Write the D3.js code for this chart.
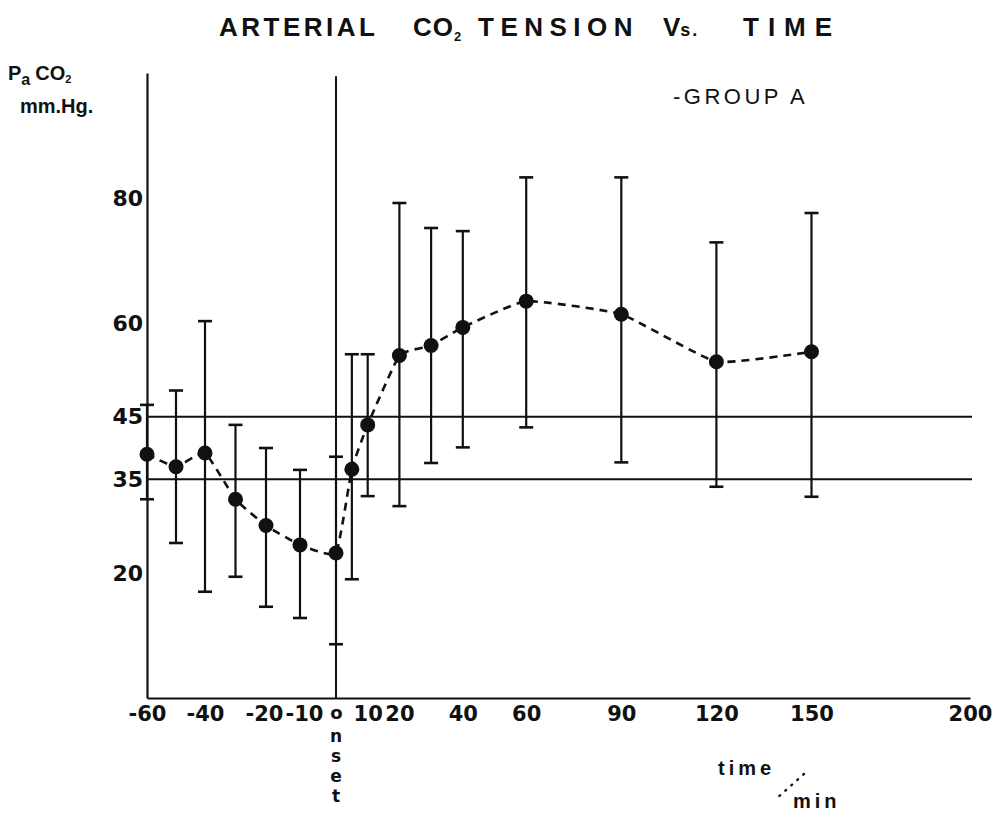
<!DOCTYPE html>
<html>
<head>
<meta charset="utf-8">
<script src="https://cdn.jsdelivr.net/npm/d3@7"></script>
<style>
  html, body { margin: 0; padding: 0; background: #fff; }
  svg { display: block; font-family: "Liberation Sans", Arial, sans-serif; }
</style>
</head>
<body>
<svg id="chart" width="1001" height="813"></svg>
<script>
// values (mm Hg), one entry per sampling time
const times = [-60, -50, -40, -30, -20, -10, 0, 5, 10, 20, 30, 40, 60, 90, 120, 150];
const means = [39.0, 37.0, 39.2, 31.8, 27.6, 24.5, 23.2, 36.6, 43.7, 54.8, 56.4, 59.3, 63.5, 61.4, 53.8, 55.4];
const upper = [46.9, 49.2, 60.3, 43.7, 40.0, 36.5, 38.6, 55.0, 55.0, 79.2, 75.2, 74.7, 83.3, 83.3, 72.9, 77.6];
const lower = [31.8, 24.8, 17.0, 19.4, 14.6, 12.8, 8.6, 19.0, 32.3, 30.7, 37.6, 40.1, 43.3, 37.7, 33.8, 32.2];

// axis ticks
const xTicks = [-60, -40, -20, -10, 0, 10, 20, 40, 60, 90, 120, 150, 200];
const yTicks = [20, 35, 45, 60, 80];
// normal range band
const refLines = [35, 45];

const svg = d3.select("#chart");

// hand drawn time axis: pre-onset part is a bit squeezed, onset gets a wider gap
const x = d3.scaleLinear().domain([-60, -40, -20, -10, 0, 200]).range([147, 205, 266, 300, 336, 970]);
const y = d3.scaleLinear().domain([0, 100]).range([698, 73]);

const ink = "#111";
const tickFont = "DejaVu Sans, Liberation Sans, sans-serif";

// title, lettered word by word like the original
const title = svg.append("text")
  .attr("y", 36)
  .attr("font-size", 26)
  .attr("font-weight", "bold")
  .attr("fill", ink);
title.append("tspan").attr("x", 219).attr("letter-spacing", 3.5).text("ARTERIAL");
title.append("tspan").attr("x", 413).attr("letter-spacing", 1).text("CO");
title.append("tspan").attr("dy", 5).attr("font-size", 13).text("2");
title.append("tspan").attr("x", 478).attr("dy", -5).attr("letter-spacing", 6.5).text("TENSION");
title.append("tspan").attr("x", 663).text("V");
title.append("tspan").attr("font-size", 18).attr("letter-spacing", 2).text("s.");
title.append("tspan").attr("x", 743).attr("letter-spacing", 9).text("TIME");

// y label
const yl = svg.append("text")
  .attr("x", 8).attr("y", 80)
  .attr("font-size", 20).attr("font-weight", "bold").attr("fill", ink);
yl.append("tspan").text("P");
yl.append("tspan").attr("dy", 5).attr("font-size", 16).text("a");
yl.append("tspan").attr("dx", 5).attr("dy", -5).text("CO");
yl.append("tspan").attr("dy", 3).attr("font-size", 11).text("2");
svg.append("text")
  .attr("x", 20).attr("y", 113)
  .attr("font-size", 20).attr("font-weight", "bold").attr("fill", ink)
  .text("mm.Hg.");

// group label
svg.append("text")
  .attr("x", 673).attr("y", 104)
  .attr("font-size", 22).attr("fill", ink)
  .attr("letter-spacing", 3.5)
  .text("-GROUP A");

// axes
const gx = svg.append("g")
  .attr("transform", `translate(0,${y(0)})`)
  .call(d3.axisBottom(x).tickValues(xTicks).tickSize(0).tickPadding(8)
    .tickFormat(d => d === 0 ? "o" : d));
gx.select(".domain").attr("stroke", ink).attr("stroke-width", 2.2);
gx.selectAll(".tick text")
  .attr("font-size", 21).attr("font-weight", "bold").attr("fill", ink)
  .attr("font-family", tickFont);
gx.selectAll(".tick text")
  .filter(d => d === 0)
  .attr("font-size", 18);
// -20 and -10 sit almost on top of each other, nudge them apart a little
gx.selectAll(".tick text")
  .filter(d => d === -10)
  .attr("dx", 4);
gx.selectAll(".tick text")
  .filter(d => d === -20)
  .attr("dx", -2);

// rest of "onset" stacked under the 0 tick
svg.selectAll(".onset")
  .data(["n", "s", "e", "t"])
  .join("text")
  .attr("class", "onset")
  .attr("x", x(0))
  .attr("y", (d, i) => y(0) + 44 + i * 20)
  .attr("text-anchor", "middle")
  .attr("font-size", 17).attr("font-weight", "bold").attr("fill", ink)
  .attr("font-family", tickFont)
  .text(d => d);

const gy = svg.append("g")
  .attr("transform", `translate(${x(-60)},0)`)
  .call(d3.axisLeft(y).tickValues(yTicks).tickSize(0).tickPadding(4));
gy.select(".domain").attr("stroke", ink).attr("stroke-width", 2.2);
gy.selectAll(".tick text")
  .attr("font-size", 22).attr("font-weight", "bold").attr("fill", ink)
  .attr("font-family", tickFont);

// x label
svg.append("text")
  .attr("x", 718).attr("y", 775)
  .attr("font-size", 20).attr("font-weight", "bold").attr("fill", ink)
  .attr("letter-spacing", 4)
  .text("time");
svg.append("line")
  .attr("x1", 804).attr("y1", 774).attr("x2", 776).attr("y2", 799)
  .attr("stroke", ink).attr("stroke-width", 2.4)
  .attr("stroke-dasharray", "1,7").attr("stroke-linecap", "round");
svg.append("text")
  .attr("x", 793).attr("y", 808)
  .attr("font-size", 20).attr("font-weight", "bold").attr("fill", ink)
  .attr("letter-spacing", 4)
  .text("min");

// 35 and 45 reference lines
svg.selectAll(".ref")
  .data(refLines)
  .join("line")
  .attr("class", "ref")
  .attr("x1", x(-60)).attr("x2", x(200) + 2)
  .attr("y1", d => y(d)).attr("y2", d => y(d))
  .attr("stroke", ink).attr("stroke-width", 2);

// onset line
svg.append("line")
  .attr("x1", x(0)).attr("x2", x(0))
  .attr("y1", y(0)).attr("y2", y(99.5))
  .attr("stroke", ink).attr("stroke-width", 2);

const rows = times.map((t, i) => ({ t, m: means[i], hi: upper[i], lo: lower[i] }));

// error bars
const bars = svg.append("g").attr("stroke", ink).attr("stroke-width", 2.2);
bars.selectAll(".stem")
  .data(rows)
  .join("line")
  .attr("x1", d => x(d.t)).attr("x2", d => x(d.t))
  .attr("y1", d => y(d.lo)).attr("y2", d => y(d.hi));
bars.selectAll(".capHi")
  .data(rows)
  .join("line")
  .attr("x1", d => x(d.t) - 7).attr("x2", d => x(d.t) + 7)
  .attr("y1", d => y(d.hi)).attr("y2", d => y(d.hi))
  .attr("stroke-width", 2.6);
bars.selectAll(".capLo")
  .data(rows)
  .join("line")
  .attr("x1", d => x(d.t) - 7).attr("x2", d => x(d.t) + 7)
  .attr("y1", d => y(d.lo)).attr("y2", d => y(d.lo))
  .attr("stroke-width", 2.6);

// dashed trend, only lightly smoothed
const line = d3.line()
  .x(d => x(d.t))
  .y(d => y(d.m))
  .curve(d3.curveCardinal.tension(0.6));

svg.append("path")
  .datum(rows)
  .attr("d", line)
  .attr("fill", "none")
  .attr("stroke", ink)
  .attr("stroke-width", 2.6)
  .attr("stroke-dasharray", "8,6");

// means
svg.selectAll(".pt")
  .data(rows)
  .join("circle")
  .attr("class", "pt")
  .attr("cx", d => x(d.t))
  .attr("cy", d => y(d.m))
  .attr("r", 7.5)
  .attr("fill", ink);
</script>
</body>
</html>
